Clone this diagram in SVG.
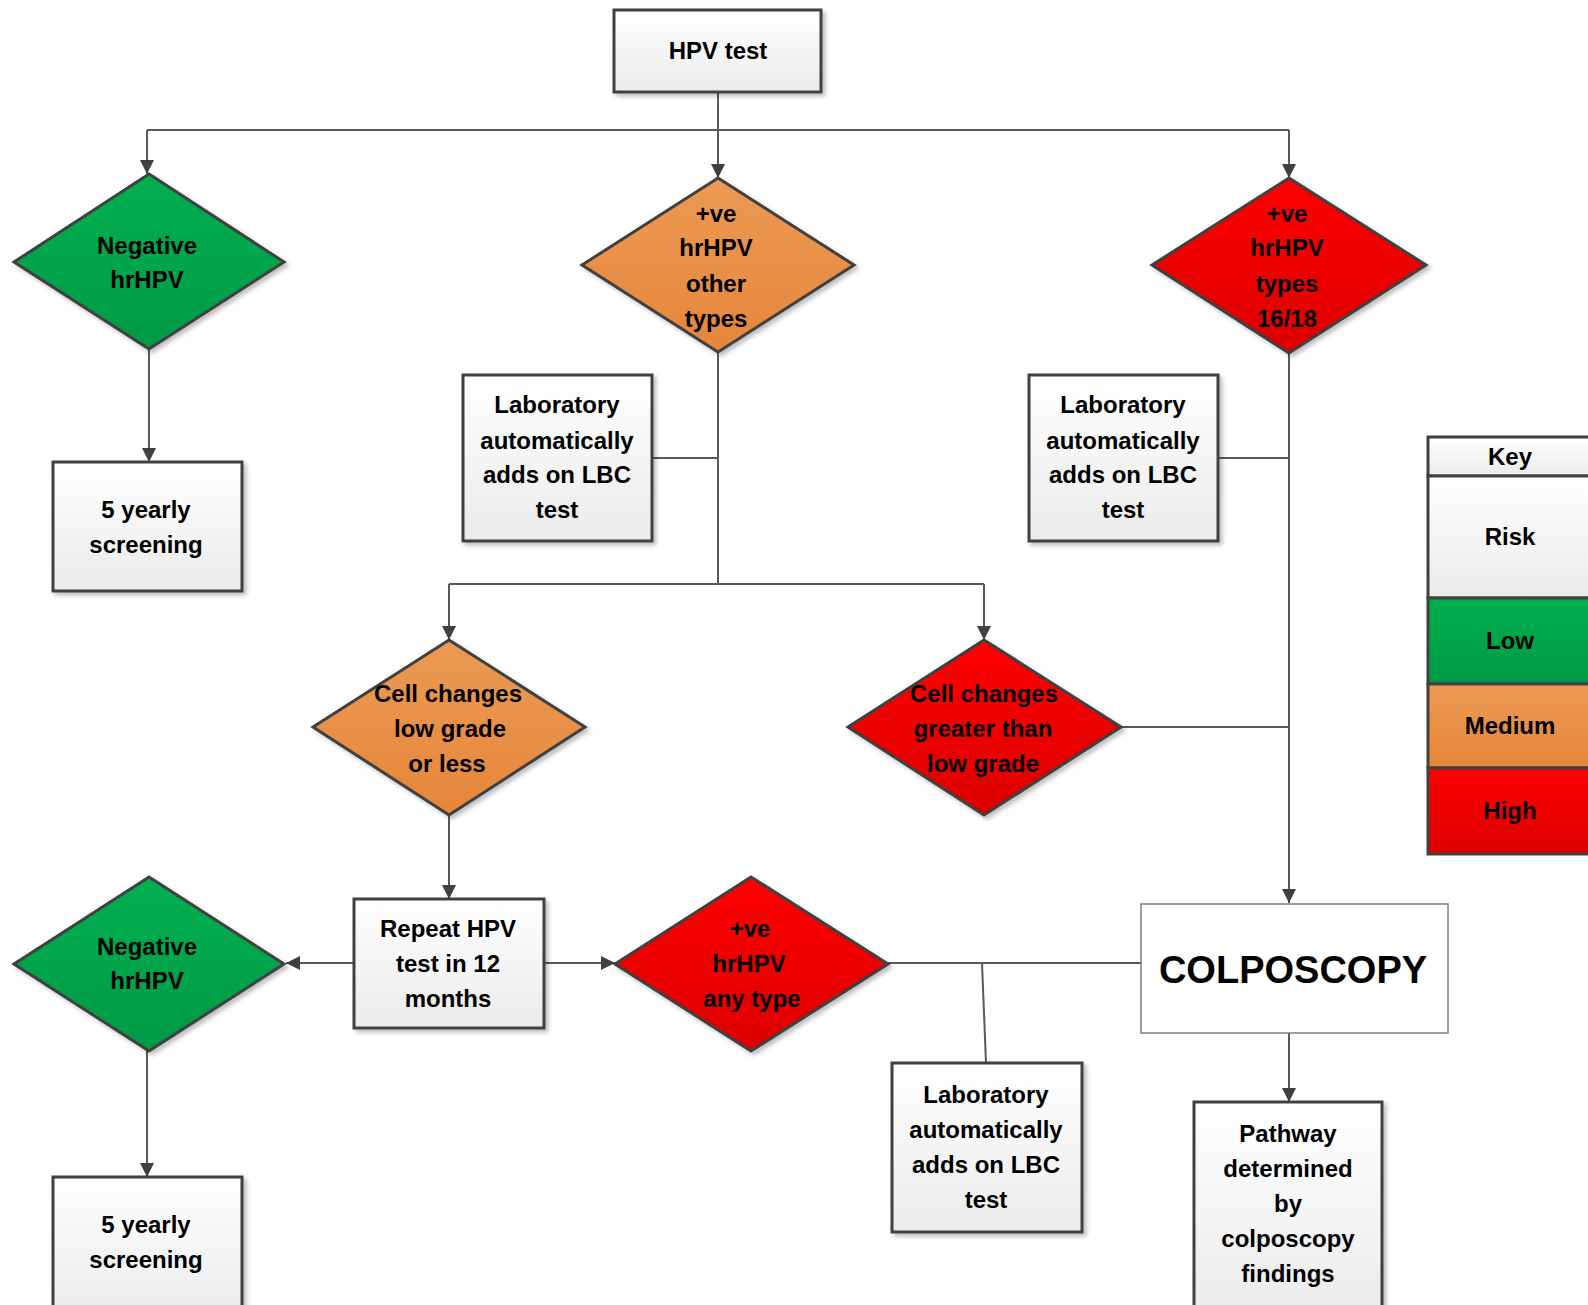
<svg xmlns="http://www.w3.org/2000/svg" width="1588" height="1305" viewBox="0 0 1588 1305">
<defs>
<linearGradient id="gBox" x1="0" y1="0" x2="0" y2="1"><stop offset="0" stop-color="#ffffff"/><stop offset="1" stop-color="#ebebeb"/></linearGradient>
<linearGradient id="gGreen" x1="0" y1="0" x2="0" y2="1"><stop offset="0" stop-color="#00b050"/><stop offset="1" stop-color="#009a45"/></linearGradient>
<linearGradient id="gOrange" x1="0" y1="0" x2="0" y2="1"><stop offset="0" stop-color="#ec9a55"/><stop offset="1" stop-color="#e5863a"/></linearGradient>
<linearGradient id="gRed" x1="0" y1="0" x2="0" y2="1"><stop offset="0" stop-color="#ff0000"/><stop offset="1" stop-color="#dc0000"/></linearGradient>
<filter id="sh" x="-10%" y="-10%" width="130%" height="130%"><feDropShadow dx="3" dy="3" stdDeviation="2" flood-color="#000" flood-opacity="0.25"/></filter>
<marker id="arrL" viewBox="0 0 14 14" refX="14" refY="7" markerWidth="14" markerHeight="14" markerUnits="userSpaceOnUse" orient="auto"><path d="M0,0 L14,7 L0,14 Z" fill="#404040"/></marker>
</defs>
<style>
.box{fill:url(#gBox);stroke:#404040;stroke-width:3;filter:url(#sh)}
.plain{fill:#ffffff;stroke:#7f7f7f;stroke-width:1.5}
.dg{fill:url(#gGreen);stroke:#404040;stroke-width:3;filter:url(#sh)}
.do{fill:url(#gOrange);stroke:#404040;stroke-width:3;filter:url(#sh)}
.dr{fill:url(#gRed);stroke:#404040;stroke-width:3;filter:url(#sh)}
.ln{fill:none;stroke:#595959;stroke-width:2}
.t{font-family:"Liberation Sans",Arial,sans-serif;font-size:24px;font-weight:bold;fill:#000;text-anchor:middle;dominant-baseline:central}
.big{font-size:38px;fill:#000}
</style>
<g id="connectors">
<path class="ln" d="M718,92 V130"/>
<path class="ln" d="M147,130 H1289"/>
<path class="ln" d="M147,130 V174" marker-end="url(#arrL)"/>
<path class="ln" d="M718,130 V178" marker-end="url(#arrL)"/>
<path class="ln" d="M1289,130 V178" marker-end="url(#arrL)"/>
<path class="ln" d="M149,350 V462" marker-end="url(#arrL)"/>
<path class="ln" d="M718,352 V584"/>
<path class="ln" d="M652,458 H718"/>
<path class="ln" d="M449,584 H984"/>
<path class="ln" d="M449,584 V640" marker-end="url(#arrL)"/>
<path class="ln" d="M984,584 V640" marker-end="url(#arrL)"/>
<path class="ln" d="M1289,353 V903" marker-end="url(#arrL)"/>
<path class="ln" d="M1218,458 H1289"/>
<path class="ln" d="M1121,727 H1289"/>
<path class="ln" d="M449,815 V899" marker-end="url(#arrL)"/>
<path class="ln" d="M354,963 H286" marker-end="url(#arrL)"/>
<path class="ln" d="M544,963 H615" marker-end="url(#arrL)"/>
<path class="ln" d="M888,963 H1141"/>
<path class="ln" d="M982,963 L986,1063"/>
<path class="ln" d="M147,1051 V1177" marker-end="url(#arrL)"/>
<path class="ln" d="M1289,1033 V1102" marker-end="url(#arrL)"/>
</g>
<g id="hpv-test"><rect class="box" x="614" y="10" width="207" height="82"/><text class="t" x="718" y="50">HPV test</text></g>
<g id="neg-top"><polygon class="dg" points="149,174 284,262 149,349 14,262"/><text class="t" x="147" y="245">Negative</text><text class="t" x="147" y="279">hrHPV</text></g>
<g id="pos-other"><polygon class="do" points="718,178 854,265 718,352 582,265"/><text class="t" x="716" y="213">+ve</text><text class="t" x="716" y="247">hrHPV</text><text class="t" x="716" y="283">other</text><text class="t" x="716" y="318">types</text></g>
<g id="pos-1618"><polygon class="dr" points="1289,178 1426,265 1289,353 1152,265"/><text class="t" x="1287" y="213">+ve</text><text class="t" x="1287" y="247">hrHPV</text><text class="t" x="1287" y="283">types</text><text class="t" x="1287" y="318">16/18</text></g>
<g id="five-top"><rect class="box" x="53" y="462" width="189" height="129"/><text class="t" x="146" y="509">5 yearly</text><text class="t" x="146" y="544">screening</text></g>
<g id="lab1"><rect class="box" x="463" y="375" width="189" height="166"/><text class="t" x="557" y="404">Laboratory</text><text class="t" x="557" y="440">automatically</text><text class="t" x="557" y="474">adds on LBC</text><text class="t" x="557" y="509">test</text></g>
<g id="lab2"><rect class="box" x="1029" y="375" width="189" height="166"/><text class="t" x="1123" y="404">Laboratory</text><text class="t" x="1123" y="440">automatically</text><text class="t" x="1123" y="474">adds on LBC</text><text class="t" x="1123" y="509">test</text></g>
<g id="cell-low"><polygon class="do" points="449,640 585,727 449,815 313,727"/><text class="t" x="448" y="693">Cell changes</text><text class="t" x="450" y="728">low grade</text><text class="t" x="447" y="763">or less</text></g>
<g id="cell-high"><polygon class="dr" points="984,640 1121,727 984,815 848,727"/><text class="t" x="984" y="693">Cell changes</text><text class="t" x="983" y="728">greater than</text><text class="t" x="983" y="763">low grade</text></g>
<g id="key">
<rect x="1428" y="437" width="170" height="39" fill="url(#gBox)" stroke="#404040" stroke-width="3"/>
<rect x="1428" y="476" width="170" height="122" fill="url(#gBox)" stroke="#404040" stroke-width="3"/>
<rect x="1428" y="598" width="170" height="86" fill="url(#gGreen)" stroke="#404040" stroke-width="3"/>
<rect x="1428" y="684" width="170" height="84" fill="url(#gOrange)" stroke="#404040" stroke-width="3"/>
<rect x="1428" y="768" width="170" height="86" fill="url(#gRed)" stroke="#404040" stroke-width="3"/>
<text class="t" x="1510" y="456">Key</text><text class="t" x="1510" y="536">Risk</text><text class="t" x="1510" y="640">Low</text><text class="t" x="1510" y="725">Medium</text><text class="t" x="1510" y="810">High</text>
</g>
<g id="neg-bottom"><polygon class="dg" points="149,877 284,964 149,1051 14,964"/><text class="t" x="147" y="946">Negative</text><text class="t" x="147" y="980">hrHPV</text></g>
<g id="repeat"><rect class="box" x="354" y="899" width="190" height="129"/><text class="t" x="448" y="928">Repeat HPV</text><text class="t" x="448" y="963">test in 12</text><text class="t" x="448" y="998">months</text></g>
<g id="pos-any"><polygon class="dr" points="751,877 888,964 751,1051 615,964"/><text class="t" x="750" y="928">+ve</text><text class="t" x="749" y="963">hrHPV</text><text class="t" x="752" y="998">any type</text></g>
<g id="colposcopy"><rect class="plain" x="1141" y="904" width="307" height="129"/><text class="t big" x="1293" y="970">COLPOSCOPY</text></g>
<g id="lab3"><rect class="box" x="892" y="1063" width="190" height="169"/><text class="t" x="986" y="1094">Laboratory</text><text class="t" x="986" y="1129">automatically</text><text class="t" x="986" y="1164">adds on LBC</text><text class="t" x="986" y="1199">test</text></g>
<g id="pathway"><rect class="box" x="1194" y="1102" width="188" height="215"/><text class="t" x="1288" y="1133">Pathway</text><text class="t" x="1288" y="1168">determined</text><text class="t" x="1288" y="1203">by</text><text class="t" x="1288" y="1238">colposcopy</text><text class="t" x="1288" y="1273">findings</text></g>
<g id="five-bottom"><rect class="box" x="53" y="1177" width="189" height="140"/><text class="t" x="146" y="1224">5 yearly</text><text class="t" x="146" y="1259">screening</text></g>
</svg>
